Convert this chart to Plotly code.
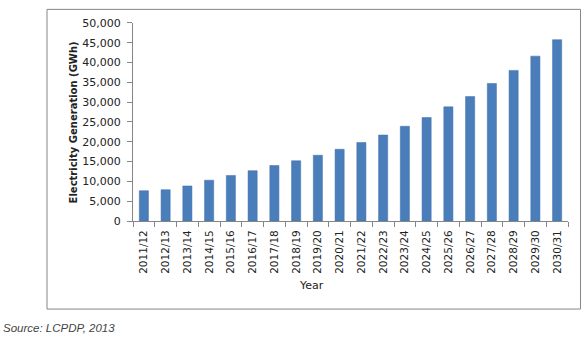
import plotly.graph_objects as go

years = ["2011/12", "2012/13", "2013/14", "2014/15", "2015/16", "2016/17", "2017/18",
         "2018/19", "2019/20", "2020/21", "2021/22", "2022/23", "2023/24", "2024/25",
         "2025/26", "2026/27", "2027/28", "2028/29", "2029/30", "2030/31"]
generation_gwh = [7650, 7900, 8850, 10300, 11500, 12700, 14000,
                  15200, 16600, 18100, 19800, 21700, 23900, 26100,
                  28800, 31400, 34700, 38000, 41600, 45750]
y_tick_values = [0, 5000, 10000, 15000, 20000, 25000, 30000, 35000, 40000, 45000, 50000]

W, H = 585, 343
axis_grey = "#868686"
text_col = "#222222"

fig = go.Figure(go.Bar(
    x=years, y=generation_gwh,
    marker=dict(color="#4A7EBB", line=dict(color="#3E6DA8", width=0.5)),
))

fig.update_layout(
    width=W, height=H,
    margin=dict(l=0, r=0, t=0, b=0),
    paper_bgcolor="white", plot_bgcolor="white",
    showlegend=False,
    bargap=0.58,
    font=dict(family="DejaVu Sans", size=11, color=text_col),
    xaxis=dict(
        domain=[133 / W, 568 / W],
        type="category", range=[-0.5, len(years) - 0.5],
        tickson="boundaries", ticks="outside", ticklen=5, tickcolor=axis_grey,
        showline=True, linecolor=axis_grey, linewidth=1,
        showgrid=False, tickangle=-90, ticklabelstandoff=4,
        tickfont=dict(size=10.5, color=text_col),
    ),
    yaxis=dict(
        domain=[1 - 223.5 / H, 1 - 17.5 / H],
        range=[0, 50000], tickvals=y_tick_values, tickformat=",d",
        ticks="outside", ticklen=5, tickcolor=axis_grey,
        showline=True, linecolor=axis_grey, linewidth=1,
        showgrid=False, zeroline=False, ticklabelstandoff=4,
        tickfont=dict(size=11, color=text_col),
    ),
    shapes=[dict(type="rect", xref="paper", yref="paper",
                 x0=47 / W, x1=580.5 / W, y0=1 - 315 / H, y1=1 - 3.5 / H,
                 line=dict(color=axis_grey, width=1), fillcolor="rgba(0,0,0,0)")],
    annotations=[
        dict(text="<b>Electricity Generation (GWh)</b>", xref="paper", yref="paper",
             x=73 / W, y=1 - 121 / H, textangle=-90, showarrow=False,
             font=dict(size=10, color=text_col), xanchor="center", yanchor="middle"),
        dict(text="Year", xref="paper", yref="paper",
             x=311 / W, y=1 - 291 / H, showarrow=False,
             font=dict(size=11, color=text_col), xanchor="center", yanchor="middle"),
        dict(text="<i>Source: LCPDP, 2013</i>", xref="paper", yref="paper",
             x=1 / W, y=1 - 335 / H, showarrow=False,
             font=dict(family="Liberation Sans", size=11.5, color="#444444"),
             xanchor="left", yanchor="middle"),
    ],
)

fig.write_html("out.html")
